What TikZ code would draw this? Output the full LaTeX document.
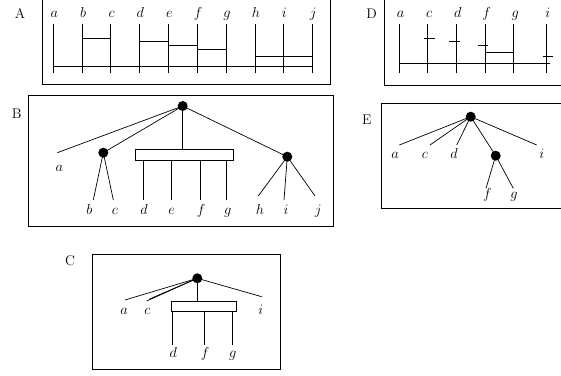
\documentclass[tikz,border=0pt]{standalone}
\begin{document}
\begin{tikzpicture}[x=1pt,y=-1pt,
  every node/.style={font=\fontsize{14}{16}\selectfont, inner sep=0pt},
  ln/.style={line width=0.7pt},
  frame/.style={line width=0.9pt},
  dot/.style={circle, fill=black, minimum size=10pt, inner sep=0pt},
  bar/.style={draw, line width=0.7pt, inner sep=0pt},
  lt/.style={anchor=base}]
\useasboundingbox (0,0) rectangle (561,375);

% ---------------- Panel A
\draw[frame] (42,-5) |- (330,84) -- (330,-5);
\node (labA) at (20,14) {A};
\foreach \n/\x in {a/53.3,b/82,c/110.7,d/139.3,e/168.3,f/197,g/226,h/255,i/283.3,j/312.3}{
  \coordinate (At\n) at (\x,24);
  \coordinate (Ab\n) at (\x,73);
  \draw[ln] (At\n) -- (Ab\n);
  \node[lt] (Al\n) at (\x+1,17.5) {$\n$};
}
\draw[ln] (Ata |- 0,66.7) -- (Atj |- 0,66.7);
\draw[ln] (Atb |- 0,38.3) -- (Atc |- 0,38.3);
\draw[ln] (Atd |- 0,41.7) -- (Ate |- 0,41.7);
\draw[ln] (Ate |- 0,45.3) -- (Atf |- 0,45.3);
\draw[ln] (Atf |- 0,49) -- (Atg |- 0,49);
\draw[ln] (Ath |- 0,56) -- (Atj |- 0,56);

% ---------------- Panel D
\draw[frame] (384.3,-5) |- (570,85);
\node (labD) at (371.7,14) {D};
\foreach \n/\x in {a/399,c/427.7,d/456.3,f/485,g/513.7,i/546.3}{
  \coordinate (Dt\n) at (\x,24);
  \coordinate (Db\n) at (\x,73);
  \draw[ln] (Dt\n) -- (Db\n);
  \node[lt] (Dl\n) at (\x+1.5,17.5) {$\n$};
}
\draw[ln] (Dta |- 0,63.3) -- (550,63.3);
\draw[ln] (424,38.3) -- (435,38.3);
\draw[ln] (449.3,41.7) -- (460,41.7);
\draw[ln] (478.3,45) -- (488.3,45);
\draw[ln] (Dtf |- 0,52.3) -- (Dtg |- 0,52.3);
\draw[ln] (542.7,56) -- (553.3,56);

% ---------------- Panel B
\draw[frame] (28.3,95) rectangle (333.3,226.7);
\node (labB) at (16.7,113.3) {B};
\node[dot] (Br) at (182.7,106) {};
\node[dot] (Bl) at (103.3,152.7) {};
\node[dot] (Bq) at (287.3,156.7) {};
\node[bar, minimum width=97.6pt, minimum height=11.4pt] (Bbx) at (184.5,155) {};
\coordinate (Bea) at (57.3,152.7);
\node[lt] (Bla) at (59.3,171) {$a$};
\draw[ln] (Br.center) -- (Bea);
\draw[ln] (Br.center) -- (Bl.center);
\draw[ln] (Br.center) -- (Br |- Bbx.north);
\draw[ln] (Br.center) -- (Bq.center);
\coordinate (Beb) at (93.3,200);
\coordinate (Bec) at (113.3,200);
\draw[ln] (Bl.center) -- (Beb);
\draw[ln] (Bl.center) -- (Bec);
\foreach \n/\x in {d/143.3,e/171.7,f/200,g/226}{
  \coordinate (Be\n) at (\x,200);
  \draw[ln] (Bbx.south -| Be\n) -- (Be\n);
}
\coordinate (Beh) at (258.3,196);
\coordinate (Bei) at (284,200);
\coordinate (Bej) at (315,196);
\draw[ln] (Bq.center) -- (Beh);
\draw[ln] (Bq.center) -- (Bei);
\draw[ln] (Bq.center) -- (Bej);
\foreach \n/\x in {b/89.3,c/115,d/144,e/171.7,f/201,g/227.7,h/260,i/286,j/318.3}{
  \node[lt] (Bl\n) at (\x,214) {$\n$};
}

% ---------------- Panel E
\draw[frame] (570,103.3) -| (381.7,208.3) -- (570,208.3);
\node (labE) at (366.7,120) {E};
\node[dot] (Er) at (470.7,116.7) {};
\node[dot] (Eq) at (495.7,155.7) {};
\coordinate (Eea) at (399.3,145);
\coordinate (Eec) at (430,145);
\coordinate (Eed) at (456.7,145);
\coordinate (Eei) at (536.7,145);
\coordinate (Eef) at (486,188.3);
\coordinate (Eeg) at (513.3,188.3);
\draw[ln] (Er.center) -- (Eea);
\draw[ln] (Er.center) -- (Eec);
\draw[ln] (Er.center) -- (Eed);
\draw[ln] (Er.center) -- (Eei);
\draw[ln] (Er.center) -- (Eq.center);
\draw[ln] (Eq.center) -- (Eef);
\draw[ln] (Eq.center) -- (Eeg);
\foreach \n/\x in {a/395,c/425,d/454,i/541.7}{
  \node[lt] (El\n) at (\x,158) {$\n$};
}
\node[lt] (Elf) at (487.3,198) {$f$};
\node[lt] (Elg) at (514,198) {$g$};

% ---------------- Panel C
\draw[frame] (92.7,254.3) rectangle (280,369.3);
\node (labC) at (70,261) {C};
\node[dot] (Cr) at (197.3,278.3) {};
\node[bar, minimum width=64.3pt, minimum height=10pt] (Cbx) at (203.85,306.7) {};
\coordinate (Cea) at (125,300);
\coordinate (Cec) at (146.7,301);
\coordinate (Cec2) at (149.5,299);
\coordinate (Cei) at (261.7,296.7);
\draw[ln] (Cr.center) -- (Cea);
\draw[ln] (Cr.center) -- (Cec);
\draw[ln] (Cr.center) -- (Cec2);
\draw[ln] (Cr.center) -- (Cei);
\draw[ln] (Cr.center) -- (Cr |- Cbx.north);
\foreach \n/\x in {d/172.7,f/204,g/232.7}{
  \coordinate (Ce\n) at (\x,345);
  \draw[ln] (Cbx.south -| Ce\n) -- (Ce\n);
}
\foreach \n/\x in {a/124,c/147.3,i/260.7}{
  \node[lt] (Cl\n) at (\x,314.3) {$\n$};
}
\foreach \n/\x in {d/173.3,f/205,g/232.7}{
  \node[lt] (Cl\n) at (\x,357) {$\n$};
}
\end{tikzpicture}
\end{document}
